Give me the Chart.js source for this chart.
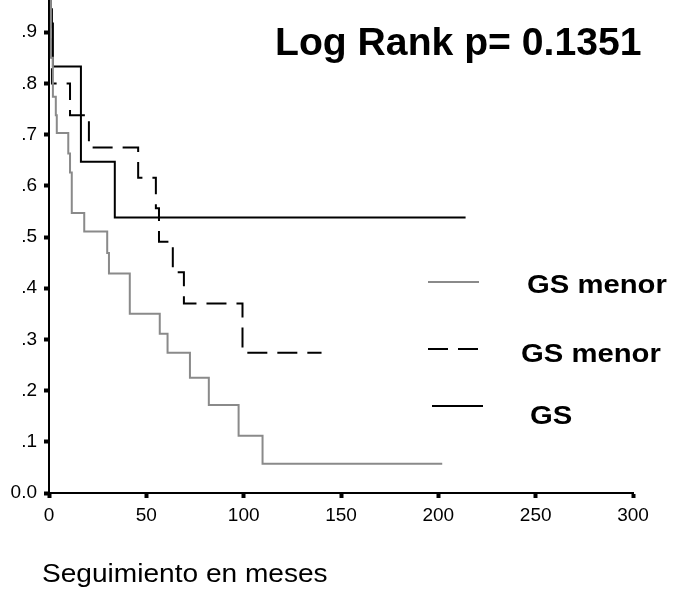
<!DOCTYPE html>
<html>
<head>
<meta charset="utf-8">
<script src="https://cdn.jsdelivr.net/npm/chart.js@4/dist/chart.umd.min.js"></script>
<style>
  body { margin: 0; background: #fff; }
  #km { display: block; }
</style>
</head>
<body>
<canvas id="km" width="673" height="596"></canvas>
<script>
// Kaplan-Meier data (months, cumulative survival)
const seriesLabels = ['GS menor', 'GS menor', 'GS'];

const timesGray = [0, 1, 2, 3.5, 4, 9.9, 10.8, 11.7, 18.1, 29.9, 30.8, 41.5, 56.9, 60.9, 72.4, 82.1, 97.4, 109.7, 202];
const survGray = [1, 0.85, 0.774, 0.738, 0.703, 0.663, 0.626, 0.547, 0.511, 0.469, 0.429, 0.35, 0.311, 0.274, 0.225, 0.172, 0.112, 0.057, 0.057];

const timesDashed = [0, 1.5, 10.8, 20.5, 45.8, 54.9, 56.5, 63.6, 69.3, 99.4, 140];
const survDashed = [1, 0.8, 0.738, 0.675, 0.616, 0.556, 0.491, 0.431, 0.37, 0.274, 0.274];

const timesSolid = [0, 1, 2, 16.4, 33.8, 214];
const survSolid = [1, 0.917, 0.833, 0.647, 0.538, 0.538];

const xTickLabels = ['0', '50', '100', '150', '200', '250', '300'];
const yTickLabels = ['0.0', '.1', '.2', '.3', '.4', '.5', '.6', '.7', '.8', '.9'];

const titleText = 'Log Rank p= 0.1351';
const xAxisTitle = 'Seguimiento en meses';

function toPoints(times, surv) {
    return times.map((t, i) => ({ x: t, y: surv[i] }));
}

// text drawn a little wider than the font, like the original export
function drawText(ctx, text, x, y, font, sx) {
    ctx.save();
    ctx.font = font;
    ctx.fillStyle = '#000';
    ctx.textAlign = 'left';
    ctx.textBaseline = 'alphabetic';
    ctx.translate(x, y);
    ctx.scale(sx, 1);
    ctx.fillText(text, 0, 0);
    ctx.restore();
}

const legendSpots = [
    { x1: 428, x2: 479, y: 282, tx: 527, ty: 293 },
    { x1: 428, x2: 479, y: 349, tx: 521, ty: 362 },
    { x1: 432, x2: 483, y: 406, tx: 530, ty: 424 }
];

const annotations = {
    id: 'annotations',
    afterDraw(chart) {
        const ctx = chart.ctx;
        drawText(ctx, titleText, 275, 55, 'bold 38px "Liberation Sans", Arial, sans-serif', 1.03);
        drawText(ctx, xAxisTitle, 42, 582, '26px "Liberation Sans", Arial, sans-serif', 1.08);

        chart.data.datasets.forEach((ds, i) => {
            const s = legendSpots[i];
            ctx.save();
            ctx.strokeStyle = ds.borderColor;
            ctx.lineWidth = 2;
            ctx.setLineDash(ds.borderDash || []);
            ctx.beginPath();
            ctx.moveTo(s.x1, s.y);
            ctx.lineTo(s.x2, s.y);
            ctx.stroke();
            ctx.restore();
            drawText(ctx, ds.label, s.tx, s.ty, 'bold 25px "Liberation Sans", Arial, sans-serif', 1.17);
        });
    }
};

const ctx = document.getElementById('km').getContext('2d');

new Chart(ctx, {
    type: 'line',
    data: {
        datasets: [
            {
                label: seriesLabels[0],
                data: toPoints(timesGray, survGray),
                borderColor: '#8a8a8a',
                borderWidth: 2,
                stepped: 'before',
                pointRadius: 0
            },
            {
                label: seriesLabels[1],
                data: toPoints(timesDashed, survDashed),
                borderColor: '#000',
                borderWidth: 2,
                borderDash: [20, 10],
                stepped: 'before',
                pointRadius: 0
            },
            {
                label: seriesLabels[2],
                data: toPoints(timesSolid, survSolid),
                borderColor: '#000',
                borderWidth: 2,
                stepped: 'before',
                pointRadius: 0
            }
        ]
    },
    options: {
        responsive: false,
        animation: false,
        layout: { padding: { top: 0, right: 40, bottom: 0, left: 0 } },
        plugins: {
            legend: { display: false },
            tooltip: { enabled: false }
        },
        scales: {
            x: {
                type: 'linear',
                min: 0,
                max: 300,
                border: { color: '#000', width: 2 },
                grid: {
                    drawOnChartArea: false,
                    drawTicks: true,
                    tickLength: 5,
                    tickWidth: 4,
                    tickColor: '#000'
                },
                ticks: {
                    stepSize: 50,
                    maxRotation: 0,
                    padding: 6,
                    color: '#000',
                    font: { family: '"Liberation Sans", Arial, sans-serif', size: 19 },
                    callback: (v) => xTickLabels[Math.round(v / 50)]
                },
                afterFit: (scale) => {
                    scale.height = 103;
                }
            },
            y: {
                min: 0,
                max: 0.963,
                border: { color: '#000', width: 2 },
                grid: {
                    drawOnChartArea: false,
                    drawTicks: true,
                    tickLength: 5,
                    tickWidth: 4,
                    tickColor: '#000'
                },
                ticks: {
                    stepSize: 0.1,
                    includeBounds: false,
                    padding: 7,
                    color: '#000',
                    font: { family: '"Liberation Sans", Arial, sans-serif', size: 19 },
                    callback: (v) => yTickLabels[Math.round(v * 10)]
                },
                afterFit: (scale) => {
                    scale.width = 49;
                    scale.paddingTop = 0;
                    scale.paddingBottom = 0;
                }
            }
        }
    },
    plugins: [annotations]
});
</script>
</body>
</html>
